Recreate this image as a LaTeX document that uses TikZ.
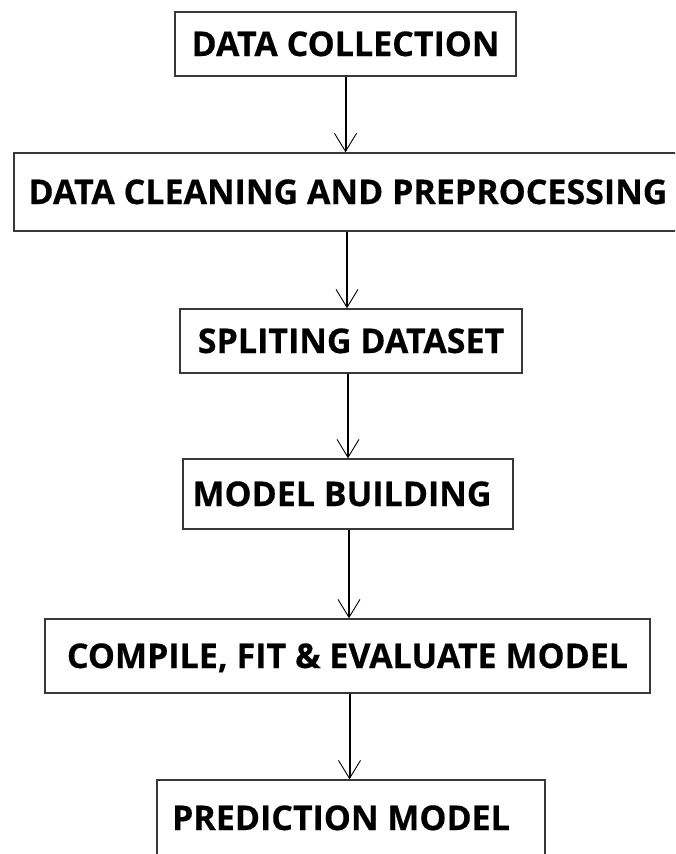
\documentclass[tikz,border=0pt]{standalone}
\usepackage{fontspec}
\setmainfont{Open Sans}[BoldFeatures={FakeBold=0.4}]
\usetikzlibrary{arrows.meta}

\tikzset{
  stage/.style 2 args={draw=black!78, line width=1.5pt, fill=white,
    minimum width=#1, minimum height=#2, inner sep=0pt,
    text height=24pt, text depth=0pt,
    font=\fontsize{34}{38}\selectfont\bfseries},
  flow/.style={line width=2pt, black,
    -{Straight Barb[length=18pt, width=22pt, line width=0.9pt]}}
}

\begin{document}
\begin{tikzpicture}[x=1pt, y=-1pt]
  \useasboundingbox (0,0) rectangle (675,854);
  \clip (0,0) rectangle (675,854);

  % process stages, top to bottom
  \node[stage={341pt}{64pt}] (collect) at (345.5,44) {DATA COLLECTION};
  \node[stage={676pt}{78pt}] (clean)   at (352,192)  {\hspace*{-8pt}DATA CLEANING AND PREPROCESSING};
  \node[stage={342pt}{64pt}] (split)   at (351,341)  {SPLITING DATASET};
  \node[stage={330pt}{70pt}] (build)   at (348,494)  {MODEL BUILDING\hspace*{12pt}};
  \node[stage={605pt}{74pt}] (fit)     at (347.5,656) {COMPILE, FIT \& EVALUATE MODEL};
  \node[stage={388pt}{76pt}] (predict) at (351,818)  {PREDICTION MODEL\hspace*{20pt}};

  % connectors between stages
  \draw[flow] (collect.south) -- (collect.south |- clean.north);
  \draw[flow] ([xshift=-4pt]split.north |- clean.south) -- ([xshift=-4pt]split.north);
  \draw[flow] ([xshift=-3pt]split.south) -- ([xshift=-3pt]split.south |- build.north);
  \draw[flow] ([xshift=1pt]build.south) -- ([xshift=1pt]build.south |- fit.north);
  \draw[flow] ([xshift=2pt]fit.south) -- ([xshift=2pt]fit.south |- predict.north);
\end{tikzpicture}
\end{document}
